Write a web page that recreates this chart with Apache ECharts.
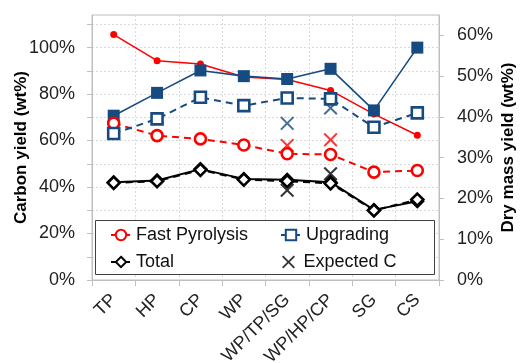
<!DOCTYPE html>
<html>
<head>
<meta charset="utf-8">
<script src="https://cdn.jsdelivr.net/npm/echarts@6/dist/echarts.min.js"></script>
<style>
  html, body { margin: 0; padding: 0; background: #fff; }
  #chart { width: 520px; height: 363px; }
</style>
</head>
<body>
<div id="chart"></div>
<script>
// Feedstocks (single and blended)
const categories = ['TP', 'HP', 'CP', 'WP', 'WP/TP/SG', 'WP/HP/CP', 'SG', 'CS'];

// Carbon yields, wt% (left axis)
const fastPyrolysisC = [67.4, 62.1, 60.7, 58.1, 54.3, 54.0, 46.4, 47.1];
const upgradingC     = [63.0, 69.3, 78.6, 75.0, 78.3, 77.9, 65.7, 71.9];
const totalC         = [41.8, 42.5, 47.4, 43.2, 42.5, 41.6, 29.9, 34.6];

// Expected carbon yields for the blends, wt% (left axis)
const expectedFastPyrolysisC = [null, null, null, null, 57.9, 60.3, null, null];
const expectedUpgradingC     = [null, null, null, null, 67.4, 74.0, null, null];
const expectedTotalC         = [null, null, null, null, 38.6, 45.7, null, null];

// Dry mass yields, wt% (right axis)
const fastPyrolysisMass = [60.2, 53.8, 53.0, 49.8, 49.2, 46.5, 40.7, 35.5];
const upgradingMass     = [40.3, 45.9, 51.4, 50.0, 49.3, 51.8, 41.6, 57.0];
const totalMass         = [24.0, 24.4, 27.2, 24.8, 24.6, 24.0, 17.2, 19.3];

// Axis tick values
const carbonTicks = [0, 20, 40, 60, 80, 100];
const massTicks = [0, 10, 20, 30, 40, 50, 60];

const RED = '#FF0000';
const BLUE = '#164B82';
const BLACK = '#000000';
const FONT = '"Liberation Sans", Arial, sans-serif';
const CROSS = 'path://M0,1 L1,0 L5,4 L9,0 L10,1 L6,5 L10,9 L9,10 L5,6 L1,10 L0,9 L4,5 Z';

function massLine(name, data, color, symbol, size, width) {
  return {
    name, type: 'line', yAxisIndex: 1, data,
    symbol, symbolSize: size,
    lineStyle: { color, width },
    itemStyle: { color, borderWidth: 0 },
    z: 2
  };
}
function carbonLine(name, data, color, symbol, size) {
  return {
    name, type: 'line', yAxisIndex: 0, data,
    symbol, symbolSize: size,
    lineStyle: { color, width: 2, type: [7, 5] },
    itemStyle: { color: '#fff', borderColor: color, borderWidth: 2.6 },
    z: 3
  };
}
function crosses(name, data, color) {
  return {
    name, type: 'scatter', yAxisIndex: 0, data,
    symbol: CROSS, symbolSize: 14,
    itemStyle: { color },
    z: 4
  };
}

const chart = echarts.init(document.getElementById('chart'), null, { renderer: 'canvas' });

const legendText = { fontFamily: FONT, fontSize: 18, color: '#111' };
function legendAt(name, left, top) {
  return {
    data: [name], left, top, padding: 0,
    itemWidth: 20, itemHeight: 13, itemGap: 0,
    textStyle: legendText, selectedMode: false
  };
}

const tickText = { fontFamily: FONT, fontSize: 18, color: '#222' };

chart.setOption({
  animation: false,
  backgroundColor: '#fff',
  grid: {
    left: 92, right: 81, top: 15, bottom: 83,
    containLabel: false, outerBoundsMode: 'none',
    show: true, borderColor: '#BFBFBF', borderWidth: 1
  },
  xAxis: {
    type: 'category', data: categories, boundaryGap: true,
    axisLine: { lineStyle: { color: '#BFBFBF', width: 1 } },
    axisTick: { show: true, length: 6, lineStyle: { color: '#BFBFBF' } },
    splitLine: { show: true, lineStyle: { color: '#D9D9D9', type: [2, 2] } },
    axisLabel: Object.assign({ rotate: 45, margin: 17, interval: 0 }, tickText)
  },
  yAxis: [
    {
      type: 'value', min: 0, max: 114, interval: 10,
      name: 'Carbon yield (wt%)', nameLocation: 'middle', nameRotate: 90, nameGap: 62,
      nameMoveOverlap: false,
      nameTextStyle: { fontFamily: FONT, fontSize: 17, fontWeight: 'bold', color: '#000' },
      axisLine: { show: true, lineStyle: { color: '#BFBFBF' } },
      axisTick: { show: true, length: 5, lineStyle: { color: '#BFBFBF' } },
      splitLine: { show: true, lineStyle: { color: '#D9D9D9', type: [2, 2] } },
      axisLabel: Object.assign({
        margin: 17, showMaxLabel: false,
        formatter: v => carbonTicks.includes(Math.round(v)) && Math.abs(v - Math.round(v)) < 1e-6 ? Math.round(v) + '%' : ''
      }, tickText)
    },
    {
      type: 'value', min: 0, max: 65, interval: 10, position: 'right',
      name: 'Dry mass yield (wt%)', nameLocation: 'middle', nameRotate: 90, nameGap: 61,
      nameMoveOverlap: false,
      nameTextStyle: { fontFamily: FONT, fontSize: 17, fontWeight: 'bold', color: '#000' },
      axisLine: { show: true, lineStyle: { color: '#BFBFBF' } },
      axisTick: { show: true, length: 5, lineStyle: { color: '#BFBFBF' } },
      splitLine: { show: false },
      axisLabel: Object.assign({
        margin: 18, showMaxLabel: false,
        formatter: v => massTicks.includes(Math.round(v)) && Math.abs(v - Math.round(v)) < 1e-6 ? Math.round(v) + '%' : ''
      }, tickText)
    }
  ],
  graphic: [{
    type: 'rect', z: 3,
    shape: { x: 95.5, y: 220.5, width: 339, height: 54 },
    style: { fill: '#fff', stroke: '#404040', lineWidth: 1 }
  }],
  legend: [
    legendAt('Fast Pyrolysis', 110, 226),
    legendAt('Upgrading', 280, 226),
    legendAt('Total', 110, 253),
    legendAt('Expected C', 282, 253)
  ],
  series: [
    massLine('Fast Pyrolysis, dry mass', fastPyrolysisMass, RED, 'circle', 7, 1.5),
    massLine('Upgrading, dry mass', upgradingMass, BLUE, 'rect', 12, 1.6),
    massLine('Total, dry mass', totalMass, BLACK, 'diamond', 15, 2),
    carbonLine('Fast Pyrolysis', fastPyrolysisC, RED, 'circle', 11),
    carbonLine('Upgrading', upgradingC, BLUE, 'rect', 11),
    carbonLine('Total', totalC, BLACK, 'diamond', 12),
    crosses('Expected C, fast pyrolysis', expectedFastPyrolysisC, RED),
    crosses('Expected C, upgrading', expectedUpgradingC, BLUE),
    crosses('Expected C', expectedTotalC, BLACK)
  ]
});
</script>
</body>
</html>
